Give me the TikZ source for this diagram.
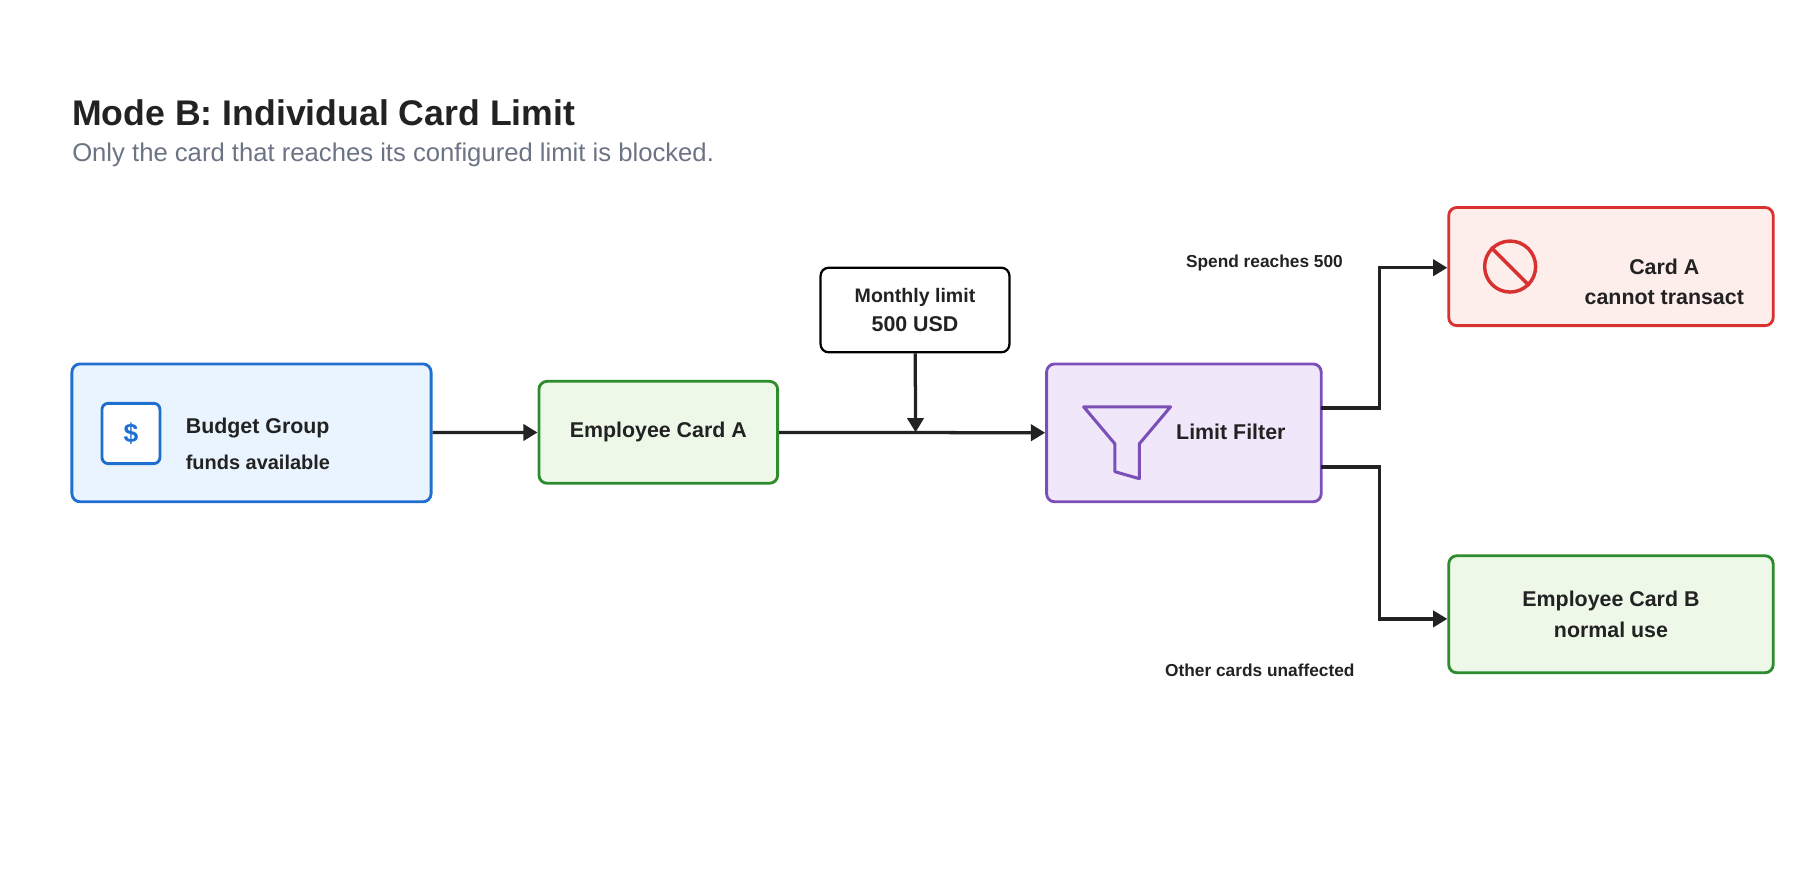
\documentclass[tikz,border=0pt]{standalone}
\usepackage{fontspec}
\setmainfont{Liberation Sans}
\usetikzlibrary{arrows.meta}
\definecolor{bluebd}{HTML}{1E6FCF}\definecolor{bluefl}{HTML}{EAF4FF}
\definecolor{greenbd}{HTML}{2E8B2E}\definecolor{greenfl}{HTML}{EDF8E9}
\definecolor{purplebd}{HTML}{7B4FB8}\definecolor{purplefl}{HTML}{F0E8FA}
\definecolor{redbd}{HTML}{D93030}\definecolor{redfl}{HTML}{FDEEEC}
\definecolor{subgray}{HTML}{6B7385}\definecolor{ink}{HTML}{222222}

\begin{document}
\begin{tikzpicture}
        [x=0.02cm, y=-0.02cm,
        every node/.style={font=\bfseries\fontsize{10.5}{15}\selectfont, text=ink, align=center},
        card/.style={draw, rounded corners=4pt, line width=1.4pt, inner sep=0},
        flow/.style={line width=1.6pt, ink, -{Triangle[length=7pt,width=8pt]}},
        note/.style={font=\bfseries\fontsize{8.5}{10}\selectfont}]

        \useasboundingbox (0,0) rectangle (1560,750);

        \node[anchor=base west, inner sep=0, font=\bfseries\fontsize{17.5}{19}\selectfont] (title) at (62,108) {Mode B: Individual Card Limit};
        \node[anchor=base west, inner sep=0, font=\fontsize{12.6}{14}\selectfont, text=subgray] (sub) at (62,139) {Only the card that reaches its configured limit is blocked.};

        \node[card, draw=bluebd, fill=bluefl, minimum width=6.2cm, minimum height=2.38cm] (budget) at (217,373.5) {};
        \node[card, draw=bluebd, fill=white, rounded corners=3pt, minimum width=1cm, minimum height=1.04cm, font=\bfseries\fontsize{13}{14}\selectfont, text=bluebd] (dollar) at (113,374) {\$};
        \node[anchor=base west, inner sep=0] (bgname) at (160,374) {Budget Group};
        \node[anchor=base west, inner sep=0, font=\bfseries\fontsize{9.8}{11}\selectfont] (bgsub) at (160,405) {funds available};

        \node[card, draw=greenbd, fill=greenfl, minimum width=4.12cm, minimum height=1.76cm] (cardA) at (568,373) {Employee Card A};
        \node[card, draw=black, fill=white, line width=1.1pt, minimum width=3.26cm, minimum height=1.46cm, font=\bfseries\fontsize{9.6}{14.5}\selectfont] (limit) at (789.5,267.5) {Monthly limit\\{\fontsize{10.5}{12}\selectfont 500 USD}};
        \coordinate (join) at (790,373);

        \node[card, draw=purplebd, fill=purplefl, minimum width=4.74cm, minimum height=2.38cm] (filter) at (1021.5,373.5) {};
        \node (ftext) at (1062,373) {Limit Filter};
        \draw[purplebd, line width=1.5pt, line join=round] (935,351) -- (1010,351) -- (983,383) -- (983,413) -- (962,407) -- (962,383) -- cycle;

        \node[card, draw=redbd, fill=redfl, minimum width=5.6cm, minimum height=2.04cm] (blocked) at (1390,230) {};
        \node (btext) at (1436,243) {Card A\\cannot transact};
        \node[draw=redbd, line width=1.7pt, circle, minimum size=0.88cm] (stop) at (1303,230) {};
        \draw[redbd, line width=1.7pt] (stop.135) -- (stop.-45);

        \node[card, draw=greenbd, fill=greenfl, minimum width=5.6cm, minimum height=2.02cm] (cardB) at (1390,530) {Employee Card B\\normal use};

        \node[note] (spend) at (1091,227) {Spend reaches 500};
        \node[note] (other) at (1087,578) {Other cards unaffected};

        \coordinate (up) at (1140,352);
        \coordinate (down) at (1140,403);

        \draw[flow] (budget) -- (cardA);
        \draw[flow] (cardA) -- (filter);
        \draw[flow] (limit) -- (join);
        \draw[flow] (up) -- (1190,352) |- (blocked.west |- 0,231);
        \draw[flow] (down) -- (1190,403) |- (cardB.west |- 0,534);

      \end{tikzpicture}
\end{document}
